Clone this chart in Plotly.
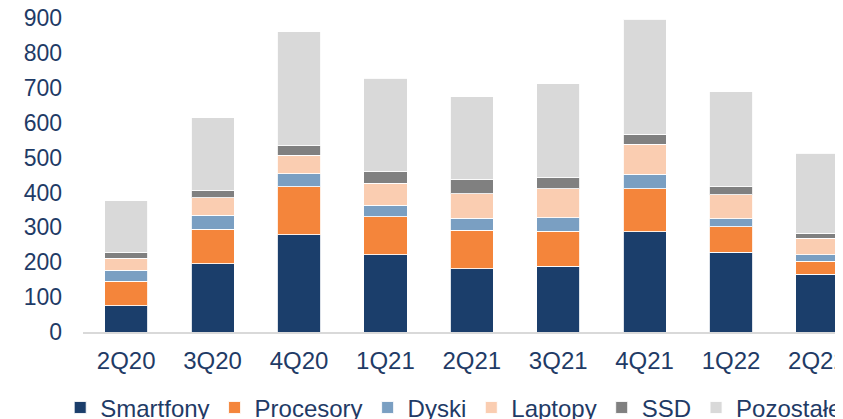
import plotly.graph_objects as go

quarters = ["2Q20", "3Q20", "4Q20", "1Q21", "2Q21", "3Q21", "4Q21", "1Q22", "2Q22"]
smartfony = [75, 196, 279, 222, 181, 188, 288, 228, 165]
procesory = [71, 99, 137, 108, 111, 101, 123, 73, 38]
dyski = [31, 39, 37, 34, 34, 38, 41, 24, 19]
laptopy = [35, 51, 54, 63, 70, 84, 86, 68, 47]
ssd = [17, 20, 27, 32, 41, 31, 29, 24, 14]
pozostale = [147, 209, 326, 269, 238, 269, 330, 272, 229]

series = [
    ("Smartfony", smartfony, "#1B3E6B"),
    ("Procesory", procesory, "#F4853B"),
    ("Dyski", dyski, "#7A9FC2"),
    ("Laptopy", laptopy, "#FACDB1"),
    ("SSD", ssd, "#808080"),
    ("Pozostałe", pozostale, "#D9D9D9"),
]

TEXT = "#1F3B66"
FONT = "Liberation Sans, Arial, sans-serif"

fig = go.Figure()
for name, vals, col in series:
    fig.add_trace(go.Bar(
        x=quarters, y=vals, name=name,
        marker=dict(color=col, line=dict(color="rgba(255,255,255,0.85)", width=1)),
    ))

# page body has an 8px default margin, so the figure is sized 8px smaller
fig.update_layout(
    width=835, height=411,
    barmode="stack", bargap=0.5,
    plot_bgcolor="white", paper_bgcolor="white",
    margin=dict(l=75, r=0, t=10, b=87, autoexpand=False),
    font=dict(family=FONT, color=TEXT, size=24),
    showlegend=True,
    legend=dict(
        orientation="h", x=-0.03, xanchor="left", y=-0.170, yanchor="top",
        font=dict(size=24, color=TEXT, family=FONT),
        traceorder="normal", bgcolor="rgba(0,0,0,0)",
    ),
    xaxis=dict(
        type="category", range=[-0.5, 8.296], automargin=False,
        showline=True, linecolor="#D9D9D9", linewidth=2,
        showgrid=False, zeroline=False, ticks="",
        tickfont=dict(size=24, color=TEXT, family=FONT),
        ticklabelstandoff=6, ticklabeloverflow="allow",
    ),
    yaxis=dict(
        range=[0, 900], dtick=100, showgrid=False, zeroline=False,
        showline=False, ticks="", automargin=False,
        tickfont=dict(size=23, color=TEXT, family=FONT),
        ticklabelstandoff=20, ticklabeloverflow="allow",
    ),
)

fig.write_html("out.html")
